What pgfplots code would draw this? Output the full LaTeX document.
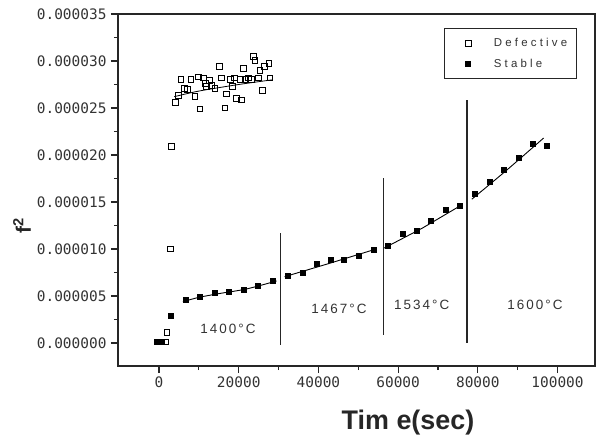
\documentclass[border=0pt]{standalone}
\usepackage{fontspec}
\setmainfont{Liberation Sans}
\newfontfamily\tickfont{DejaVu Sans Mono}
\newfontfamily\lblfont[LetterSpace=15]{Liberation Sans}
\newfontfamily\legfont[LetterSpace=28]{Liberation Sans}
\usepackage{pgfplots}
\pgfplotsset{compat=1.18}
\definecolor{txt}{HTML}{333333}
\begin{document}
\begin{tikzpicture}
\begin{axis}[
    scale only axis,
    width=477bp, height=352bp,
    xmin=-10300, xmax=109400,
    ymin=-2.45e-6, ymax=35e-6,
    xtick={0,20000,40000,60000,80000,100000},
    xticklabels={0,20000,40000,60000,80000,100000},
    ytick={0,0.000005,0.00001,0.000015,0.00002,0.000025,0.00003,0.000035},
    yticklabels={0.000000,0.000005,0.000010,0.000015,0.000020,0.000025,0.000030,0.000035},
    minor x tick num=1, minor y tick num=1,
    tick align=outside, tick pos=left,
    major tick length=7bp, minor tick length=4bp,
    axis line style={line width=1.3bp, black!85},
    tick style={line width=1.1bp, black!85},
    xticklabel style={font=\tickfont\fontsize{14.5}{16}\selectfont, text=txt},
    yticklabel style={font=\tickfont\fontsize{14.5}{16}\selectfont, text=txt, xshift=-1bp},
    scaled x ticks=false, scaled y ticks=false,
    xlabel={Tim e(sec)},
    xlabel style={at={(rel axis cs:0.608,-0.162)}, anchor=center,
        font=\fontsize{27}{30}\selectfont\bfseries, text=black!85},
    ylabel={f\textsuperscript{2}},
    ylabel style={at={(rel axis cs:-0.2013,0.40)}, anchor=center,
        font=\fontsize{21}{23}\selectfont\bfseries, text=black!85},
    legend style={at={(rel axis cs:0.9617,0.9594)}, anchor=north east,
        draw=black!85, line width=1bp, fill=white,
        inner xsep=7bp, inner ysep=7.5bp, row sep=7bp,
        font=\legfont\fontsize{11.5}{13}\selectfont, text=txt},
    legend cell align=left,
    legend image code/.code={
        \path (0bp,0bp) (39bp,0bp);
        \draw[mark repeat=1,#1,line width=0.9bp] plot coordinates {(16bp,0bp)};
    },
]
% Defective
\addplot[only marks, mark=square, mark size=2.9bp, line width=0.9bp, black] coordinates {
    (-500,0.1e-6)(600,0.1e-6)(1700,0.1e-6)(2000,1.1e-6)(2800,10.0e-6)(3200,20.9e-6)
    (4190,25.6e-6)(4850,26.3e-6)(5520,28.0e-6)(6350,27.1e-6)(7190,27.0e-6)(8030,28.0e-6)
    (9030,26.2e-6)(9870,28.3e-6)(10290,24.9e-6)(11120,28.2e-6)(11710,27.6e-6)(11960,27.3e-6)
    (12550,27.9e-6)(13220,27.4e-6)(14050,27.1e-6)(15060,29.4e-6)(15730,28.2e-6)(16560,25.0e-6)
    (16980,26.5e-6)(17820,28.0e-6)(18400,27.3e-6)(18900,28.2e-6)(19500,26.0e-6)(20330,28.0e-6)
    (20750,25.85e-6)(21160,29.2e-6)(21580,28.0e-6)(22410,28.2e-6)(23260,28.0e-6)(23660,30.5e-6)
    (24090,30.1e-6)(24920,28.2e-6)(25340,29.0e-6)(25920,26.9e-6)(26420,29.4e-6)(27600,29.75e-6)
    (27850,28.2e-6)
};
\addlegendentry{Defective}
% Stable
\addplot[only marks, mark=square*, mark size=2.5bp, black] coordinates {
    (-600,0.1e-6)(500,0.1e-6)(3000,2.9e-6)
    (6700,4.57e-6)(10300,4.9e-6)(14050,5.39e-6)(17600,5.5e-6)(21170,5.64e-6)(24770,6.13e-6)
    (28530,6.63e-6)(32200,7.13e-6)(35970,7.48e-6)(39570,8.4e-6)(43080,8.9e-6)(46420,8.9e-6)
    (50020,9.26e-6)(53790,9.9e-6)(57300,10.4e-6)(61060,11.67e-6)(64670,11.95e-6)(68260,13.0e-6)
    (71940,14.15e-6)(75530,14.65e-6)(79300,15.85e-6)(82900,17.16e-6)(86580,18.4e-6)
    (90170,19.75e-6)(93770,21.17e-6)(97290,20.96e-6)
};
\addlegendentry{Stable}
% fit lines
\addplot[forget plot, black, line width=0.8bp, smooth] coordinates {
    (3800,26.2e-6)(10000,26.8e-6)(20000,27.5e-6)(28500,28.0e-6)};
\addplot[forget plot, black, line width=0.9bp, smooth] coordinates {
    (6000,4.4e-6)(10000,4.85e-6)(15000,5.25e-6)(22000,5.75e-6)(29500,6.6e-6)};
\addplot[forget plot, black, line width=0.9bp] coordinates {
    (31500,7.05e-6)(43000,8.5e-6)(54500,10.0e-6)};
\addplot[forget plot, black, line width=0.9bp] coordinates {
    (56500,10.1e-6)(66000,12.2e-6)(76000,14.7e-6)};
\addplot[forget plot, black, line width=0.9bp, smooth] coordinates {
    (78500,15.3e-6)(87000,18.3e-6)(96500,21.8e-6)};
% temperature boundaries
\addplot[forget plot, black!85, line width=1.6bp] coordinates {(30500,-0.2e-6)(30500,11.7e-6)};
\addplot[forget plot, black!85, line width=1.6bp] coordinates {(56300,0.85e-6)(56300,17.55e-6)};
\addplot[forget plot, black!85, line width=1.6bp] coordinates {(77350,0)(77350,25.85e-6)};
\node[font=\lblfont\fontsize{13.5}{15}\selectfont, text=txt] at (axis cs:17300,1.5e-6) {1400°C};
\node[font=\lblfont\fontsize{13.5}{15}\selectfont, text=txt] at (axis cs:45170,3.6e-6) {1467°C};
\node[font=\lblfont\fontsize{13.5}{15}\selectfont, text=txt] at (axis cs:65920,4.04e-6) {1534°C};
\node[font=\lblfont\fontsize{13.5}{15}\selectfont, text=txt] at (axis cs:94350,4.04e-6) {1600°C};
\end{axis}
\pgfresetboundingbox
\path ([xshift=-118bp,yshift=-76bp]current axis.south west)
    rectangle ([xshift=3bp,yshift=14bp]current axis.north east);
\end{tikzpicture}
\end{document}
